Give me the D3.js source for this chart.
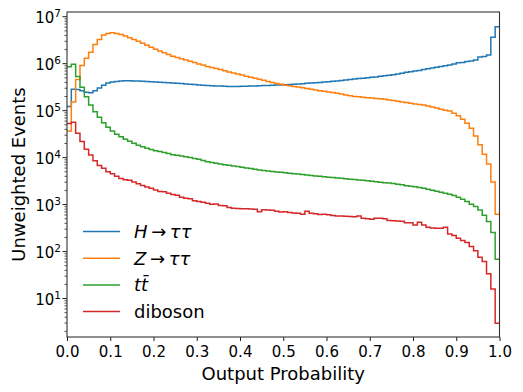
<!DOCTYPE html>
<html lang="en">
<head>
<meta charset="UTF-8">
<title>Output Probability</title>
<script src="https://cdn.jsdelivr.net/npm/d3@7"></script>
<style>
  body { margin: 0; background: #fff; }
  svg { font-family: "DejaVu Sans", sans-serif; }
</style>
</head>
<body>
<svg width="523" height="392"></svg>
<script>
// 100 bins of the classifier output, from 0 to 1
const nBins = 100;

const hTauTau = [
  1.2e5, 2.8e5, 2.75e5, 2.6e5, 2.4e5, 2.35e5, 2.6e5, 2.95e5, 3.4e5, 3.8e5,
  4.0e5, 4.1e5, 4.2e5, 4.25e5, 4.25e5, 4.2e5, 4.2e5, 4.15e5, 4.1e5, 4.05e5,
  4.0e5, 3.95e5, 3.9e5, 3.85e5, 3.8e5, 3.75e5, 3.7e5, 3.6e5, 3.55e5, 3.5e5,
  3.45e5, 3.4e5, 3.35e5, 3.3e5, 3.28e5, 3.25e5, 3.22e5, 3.2e5, 3.2e5, 3.2e5,
  3.22e5, 3.24e5, 3.26e5, 3.28e5, 3.3e5, 3.33e5, 3.36e5, 3.39e5, 3.42e5, 3.45e5,
  3.48e5, 3.52e5, 3.57e5, 3.62e5, 3.67e5, 3.72e5, 3.78e5, 3.84e5, 3.9e5, 3.97e5,
  4.04e5, 4.12e5, 4.2e5, 4.3e5, 4.4e5, 4.5e5, 4.6e5, 4.7e5, 4.8e5, 4.9e5,
  5.0e5, 5.1e5, 5.25e5, 5.4e5, 5.55e5, 5.7e5, 5.9e5, 6.1e5, 6.4e5, 6.6e5,
  6.8e5, 7.0e5, 7.3e5, 7.6e5, 7.9e5, 8.2e5, 8.5e5, 8.8e5, 9.2e5, 9.6e5,
  1.02e6, 1.04e6, 1.08e6, 1.12e6, 1.17e6, 1.35e6, 1.38e6, 1.5e6, 3.55e6, 6.0e6
];

const zTauTau = [
  3.6e4, 1.5e5, 4.5e5, 8.9e5, 1.27e6, 1.71e6, 2.5e6, 3.2e6, 4.0e6, 4.3e6,
  4.45e6, 4.3e6, 4.1e6, 3.8e6, 3.5e6, 3.2e6, 2.93e6, 2.65e6, 2.4e6, 2.18e6,
  1.98e6, 1.82e6, 1.67e6, 1.54e6, 1.41e6, 1.33e6, 1.25e6, 1.17e6, 1.1e6, 1.03e6,
  9.6e5, 9.1e5, 8.5e5, 8.1e5, 7.7e5, 7.3e5, 6.9e5, 6.5e5, 6.2e5, 5.9e5,
  5.6e5, 5.3e5, 5.05e5, 4.8e5, 4.55e5, 4.35e5, 4.1e5, 3.9e5, 3.7e5, 3.55e5,
  3.4e5, 3.3e5, 3.2e5, 3.1e5, 3.0e5, 2.9e5, 2.8e5, 2.7e5, 2.6e5, 2.52e5,
  2.45e5, 2.37e5, 2.28e5, 2.2e5, 2.1e5, 2.02e5, 1.96e5, 1.92e5, 1.88e5, 1.84e5,
  1.81e5, 1.78e5, 1.74e5, 1.7e5, 1.65e5, 1.6e5, 1.55e5, 1.5e5, 1.45e5, 1.4e5,
  1.36e5, 1.32e5, 1.28e5, 1.23e5, 1.17e5, 1.11e5, 1.05e5, 1.0e5, 9.6e4, 8.6e4,
  7.6e4, 6.4e4, 5.25e4, 4.1e4, 2.8e4, 1.83e4, 1.15e4, 7.1e3, 2.95e3, 610
];

const ttbar = [
  8.4e5, 9.5e5, 5.2e5, 3.07e5, 1.94e5, 1.29e5, 9.3e4, 7.1e4, 5.4e4, 4.3e4,
  3.6e4, 3.07e4, 2.73e4, 2.4e4, 2.18e4, 1.98e4, 1.79e4, 1.66e4, 1.55e4, 1.45e4,
  1.37e4, 1.31e4, 1.25e4, 1.19e4, 1.13e4, 1.1e4, 1.06e4, 1.02e4, 9.8e3, 9.4e3,
  9.0e3, 8.5e3, 8.0e3, 7.7e3, 7.4e3, 7.1e3, 6.9e3, 6.7e3, 6.5e3, 6.3e3,
  6.1e3, 5.9e3, 5.7e3, 5.5e3, 5.35e3, 5.2e3, 5.05e3, 4.95e3, 4.85e3, 4.75e3,
  4.65e3, 4.55e3, 4.45e3, 4.35e3, 4.25e3, 4.15e3, 4.05e3, 3.98e3, 3.9e3, 3.82e3,
  3.75e3, 3.68e3, 3.6e3, 3.55e3, 3.48e3, 3.4e3, 3.33e3, 3.27e3, 3.2e3, 3.13e3,
  3.05e3, 3.0e3, 2.93e3, 2.86e3, 2.8e3, 2.73e3, 2.66e3, 2.57e3, 2.47e3, 2.4e3,
  2.33e3, 2.25e3, 2.18e3, 2.08e3, 1.98e3, 1.88e3, 1.78e3, 1.71e3, 1.62e3, 1.52e3,
  1.4e3, 1.27e3, 1.13e3, 995, 885, 753, 581, 425, 248, 67
];

const diboson = [
  5.2e4, 5.5e4, 3.24e4, 2.14e4, 1.47e4, 1.11e4, 8.4e3, 6.6e3, 5.8e3, 4.9e3,
  4.4e3, 3.9e3, 3.5e3, 3.3e3, 3.2e3, 2.96e3, 2.7e3, 2.5e3, 2.3e3, 2.18e3,
  2.0e3, 1.85e3, 1.82e3, 1.7e3, 1.6e3, 1.55e3, 1.4e3, 1.33e3, 1.3e3, 1.18e3,
  1.13e3, 1.1e3, 1.04e3, 990, 1010, 930, 920, 850, 820, 810,
  800, 800, 790, 780, 690, 760, 750, 740, 700, 680,
  690, 665, 650, 640, 610, 700, 640, 620, 600, 610,
  590, 570, 560, 560, 550, 545, 540, 560, 500, 490,
  477, 500, 500, 490, 445, 440, 437, 430, 403, 400,
  360, 412, 360, 322, 310, 307, 305, 320, 232, 214,
  188, 167, 152, 125, 101, 74, 60, 33, 15.5, 2.9
];

const seriesNames = ["H→ττ", "Z→ττ", "tt\u0304", "diboson"];
const seriesColors = ["#1f77b4", "#ff7f0e", "#2ca02c", "#d62728"];
const seriesValues = [hTauTau, zTauTau, ttbar, diboson];

const xTicks = [0, 0.1, 0.2, 0.3, 0.4, 0.5, 0.6, 0.7, 0.8, 0.9, 1.0];
const yTicks = [1e1, 1e2, 1e3, 1e4, 1e5, 1e6, 1e7];

const svg = d3.select("svg");
const margin = { left: 67, right: 499.5, top: 12, bottom: 337 };

const x = d3.scaleLinear().domain([0, 1]).range([margin.left, margin.right]);
const y = d3.scaleLog()
  .domain([Math.pow(10, 0.17), Math.pow(10, 7.09)])
  .range([margin.bottom, margin.top]);

// clip the histograms to the axes box
svg.append("clipPath").attr("id", "plotclip")
  .append("rect")
  .attr("x", margin.left).attr("y", margin.top)
  .attr("width", margin.right - margin.left)
  .attr("height", margin.bottom - margin.top);

const line = d3.line()
  .x(d => x(d[0]))
  .y(d => y(d[1]))
  .curve(d3.curveStepAfter);

const floor = y.domain()[0];

seriesValues.forEach((vals, k) => {
  const pts = vals.map((v, i) => [i / nBins, v]);
  pts.push([1, vals[vals.length - 1]]);
  svg.append("path")
    .attr("clip-path", "url(#plotclip)")
    .attr("d", line(pts))
    .attr("fill", "none")
    .attr("stroke", seriesColors[k])
    .attr("stroke-width", 1.5)
    .attr("stroke-linejoin", "miter");
});

// x axis
const xAxis = svg.append("g")
  .attr("transform", `translate(0,${margin.bottom})`)
  .call(d3.axisBottom(x).tickValues(xTicks).tickFormat(d3.format(".1f"))
    .tickSize(4).tickPadding(5).tickSizeOuter(0));
xAxis.select(".domain").remove();
xAxis.selectAll("text").attr("font-size", 15).attr("font-family", "DejaVu Sans").attr("fill", "#000");
xAxis.selectAll("line").attr("stroke", "#000").attr("stroke-width", 0.9);

// y axis minor ticks
const yMinor = [];
for (let e = 0; e <= 6; e++) {
  for (let m = 2; m <= 9; m++) {
    const v = m * Math.pow(10, e);
    if (v >= floor && v <= y.domain()[1]) yMinor.push(v);
  }
}
const yAxisMinor = svg.append("g")
  .attr("transform", `translate(${margin.left},0)`)
  .call(d3.axisLeft(y).tickValues(yMinor).tickFormat("").tickSize(2.5).tickSizeOuter(0));
yAxisMinor.select(".domain").remove();
yAxisMinor.selectAll("text").remove();
yAxisMinor.selectAll("line").attr("stroke", "#000").attr("stroke-width", 0.7);

// y axis major ticks with 10^n labels
const yAxis = svg.append("g")
  .attr("transform", `translate(${margin.left},0)`)
  .call(d3.axisLeft(y).tickValues(yTicks).tickFormat("").tickSize(4.5).tickSizeOuter(0));
yAxis.select(".domain").remove();
yAxis.selectAll("line").attr("stroke", "#000").attr("stroke-width", 0.9);
yAxis.selectAll(".tick").each(function (d) {
  const t = d3.select(this).select("text")
    .attr("x", -6).attr("dy", null).attr("y", 6.5)
    .attr("text-anchor", "end").attr("fill", "#000")
    .attr("font-family", "DejaVu Sans")
    .attr("font-size", 15);
  t.append("tspan").text("10");
  t.append("tspan").attr("font-size", 10.5).attr("dy", -6.5)
    .text(String(Math.round(Math.log10(d))));
});

// axes frame, above the lines
svg.append("rect")
  .attr("x", margin.left).attr("y", margin.top)
  .attr("width", margin.right - margin.left)
  .attr("height", margin.bottom - margin.top)
  .attr("fill", "none")
  .attr("stroke", "#333")
  .attr("stroke-width", 1.1);

// axis titles
svg.append("text")
  .attr("x", (margin.left + margin.right) / 2)
  .attr("y", 380)
  .attr("text-anchor", "middle")
  .attr("font-size", 18)
  .text("Output Probability");

svg.append("text")
  .attr("transform", `translate(25,${(margin.top + margin.bottom) / 2}) rotate(-90)`)
  .attr("text-anchor", "middle")
  .attr("font-size", 18)
  .text("Unweighted Events");

// legend (no frame)
const legend = svg.append("g");
seriesNames.forEach((name, k) => {
  const ly = 231.5 + k * 26.7;
  legend.append("line")
    .attr("x1", 83).attr("x2", 120)
    .attr("y1", ly).attr("y2", ly)
    .attr("stroke", seriesColors[k])
    .attr("stroke-width", 1.5);
  const txt = legend.append("text")
    .attr("x", 134).attr("y", ly).attr("dy", "0.36em")
    .attr("font-size", 18);
  if (/[^\x00-\x7f]/.test(name)) {
    // math-style label: letters italic (keeping combining marks with
    // their base letter), arrow upright with thin spaces
    name.match(/.\p{M}*/gu).forEach(ch => {
      if (ch === "→") {
        txt.append("tspan").text("\u2009→\u2009");
      } else {
        txt.append("tspan").attr("font-style", "italic").text(ch);
      }
    });
  } else {
    txt.text(name);
  }
});
</script>
</body>
</html>
